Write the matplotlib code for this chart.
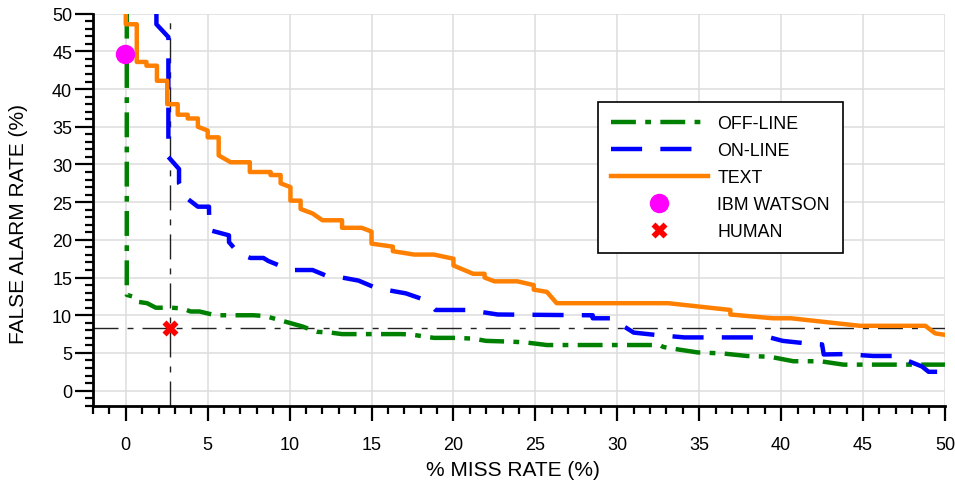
import numpy as np
import matplotlib
matplotlib.use("Agg")
import matplotlib.pyplot as plt
from matplotlib.ticker import MultipleLocator

plt.rcParams['font.family'] = ['Liberation Sans', 'DejaVu Sans']

# TEXT curve (orange)
text_x = [0, 0, 0.67, 0.67, 1.26, 1.26, 1.9, 1.9, 2.53, 2.53, 3.17, 3.17,
          3.78, 3.78, 4.4, 4.4, 5.0, 5.0, 5.67, 5.67, 6.4, 7.57, 7.57, 8.84,
          8.84, 9.45, 9.45, 10.05, 10.05, 10.67, 10.67, 11.4, 12.0, 13.2, 13.2, 14.4,
          15.0, 15.0, 16.3, 16.3, 17.6, 18.8, 20.0, 20.0, 21.2, 21.9, 21.9, 22.5,
          23.9, 24.9, 24.9, 25.7, 26.3, 33.1, 36.9, 36.9, 39.5, 40.6, 44.8, 48.8,
          49.4, 50]
text_y = [50, 48.6, 48.6, 43.6, 43.6, 43.1, 43.1, 41.1, 41.1, 38.0, 38.0, 36.6,
          36.6, 36.1, 36.1, 35.0, 34.5, 33.6, 33.6, 31.2, 30.3, 30.3, 29.0, 29.0,
          28.6, 28.6, 27.5, 27.0, 25.2, 25.2, 24.1, 23.5, 22.6, 22.6, 21.6, 21.6,
          21.1, 19.5, 19.1, 18.5, 18.05, 18.05, 17.5, 16.6, 15.5, 15.5, 15.0, 14.5,
          14.5, 14.0, 13.4, 13.1, 11.6, 11.6, 10.7, 10.1, 9.6, 9.6, 8.6, 8.6,
          7.6, 7.4]

# ON-LINE curve (blue)
online_x = [1.87, 1.87, 2.6, 2.6, 3.25, 3.25, 3.74, 4.4, 5.08, 5.08, 5.1, 6.3,
            6.3, 6.9, 7.6, 8.4, 8.7, 9.6, 10.06, 11.4, 12.4, 13.2, 14.2, 15.3,
            17.1, 18.3, 18.9, 20.9, 22.7, 28.2, 28.5, 28.5, 29.8, 30.2, 31.0, 32.3,
            34.1, 39.3, 40.1, 41.4, 42.5, 42.6, 43.9, 45.6, 47.0, 48.6, 49.0, 50]
online_y = [50, 48.6, 46.9, 31.0, 29.4, 27.5, 25.5, 24.4, 24.4, 24.0, 21.3, 20.6,
            19.7, 18.2, 17.6, 17.6, 17.2, 16.4, 16.0, 16.0, 15.1, 15.0, 14.6, 13.6,
            12.9, 12.0, 10.7, 10.7, 10.1, 10.0, 10.0, 9.6, 9.6, 8.8, 7.7, 7.4,
            7.06, 7.06, 6.6, 6.3, 6.13, 4.8, 4.85, 4.6, 4.6, 3.2, 2.5, 2.5]

# OFF-LINE curve (green)
offline_x = [0.06, 0.06, 0.4, 0.7, 1.3, 1.83, 2.8, 3.45, 3.96, 4.5, 5.08, 5.5,
             7.8, 8.5, 10.8, 11.4, 11.7, 12.5, 13.2, 16.8, 17.4, 18.8, 20.2, 21.2,
             22.0, 23.5, 24.4, 25.7, 32.6, 32.8, 33.3, 34.9, 36.4, 37.9, 39.3, 40.75,
             42.4, 43.8, 50]
offline_y = [50, 12.7, 12.5, 11.8, 11.6, 11.0, 11.0, 10.9, 10.5, 10.5, 10.2, 10.0,
             10.0, 9.9, 8.5, 8.0, 7.8, 7.7, 7.5, 7.5, 7.45, 7.0, 7.0, 6.9,
             6.6, 6.5, 6.4, 6.05, 6.05, 5.8, 5.6, 5.07, 4.94, 4.6, 4.5, 3.9,
             3.9, 3.45, 3.45]

watson = (-0.05, 44.7)
human = (2.68, 8.3)

fig = plt.figure(figsize=(9.55, 4.85), dpi=100)
ax = fig.add_axes([0.0974, 0.1614, 0.8921, 0.8083])

ref_dash = (18, 6.5, 4.3, 6.5)
ax.axhline(human[1], color='#222222', lw=1.0, dashes=ref_dash, zorder=2)
ax.axvline(human[0], color='#222222', lw=1.0, dashes=ref_dash, zorder=2)

ax.plot(offline_x, offline_y, color='#008000', lw=3.2, dashes=(5.6, 2.1, 1.3, 2.1),
        label='OFF-LINE', zorder=3)
ax.plot(online_x, online_y, color='#0000ff', lw=3.2, dashes=(7.0, 4.1),
        label='ON-LINE', zorder=4)
ax.plot(text_x, text_y, color='#ff8000', lw=3.2, label='TEXT', zorder=5)
ax.plot([watson[0]], [watson[1]], 'o', color='#ff00ff', ms=14, mec='none',
        label='IBM WATSON', zorder=6, clip_on=False)
ax.plot([human[0]], [human[1]], 'X', color='#ff0000', ms=11, mec='none',
        label='HUMAN', zorder=6)

ax.set_xlim(-2, 50)
ax.set_ylim(-2, 50)
ax.xaxis.set_major_locator(MultipleLocator(5))
ax.xaxis.set_minor_locator(MultipleLocator(1))
ax.yaxis.set_major_locator(MultipleLocator(5))
ax.yaxis.set_minor_locator(MultipleLocator(1))
ax.grid(True, which='major', color='#dddddd', lw=1.1, zorder=0)
ax.set_axisbelow(True)

for s in ['top', 'right']:
    ax.spines[s].set_visible(False)
for s in ['left', 'bottom']:
    ax.spines[s].set_linewidth(2)
    ax.spines[s].set_color('black')

ax.tick_params(axis='x', which='major', direction='out', length=11, width=1.6,
               pad=11, labelsize=13)
ax.tick_params(axis='x', which='minor', direction='out', length=5.5, width=1.6)
ax.tick_params(axis='y', which='major', direction='out', length=13, width=1.6,
               pad=2, labelsize=13)
ax.tick_params(axis='y', which='minor', direction='out', length=5.5, width=1.6)

ax.set_xlabel('% MISS RATE (%)', fontsize=15)
ax.set_ylabel('FALSE ALARM RATE (%)', fontsize=15)
ax.xaxis.set_label_coords(0.5 - 6 / 852, -0.1385)
ax.yaxis.set_label_coords(-0.0763, 0.5 - 13 / 392)

leg = ax.legend(loc='upper left', bbox_to_anchor=(598 / 955, 1 - 103 / 485),
                bbox_transform=fig.transFigure, fontsize=12.8, frameon=True,
                fancybox=False, framealpha=1, edgecolor='black',
                handlelength=5.45, handletextpad=0.55, labelspacing=0.57,
                borderpad=0.72, borderaxespad=0, numpoints=1)
leg.get_frame().set_linewidth(1.2)

fig.savefig('out.png', dpi=100)
